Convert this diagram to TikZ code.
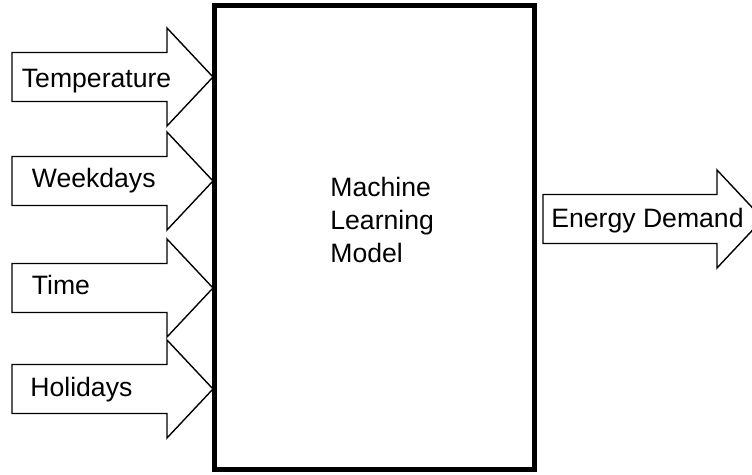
\documentclass[tikz,border=0pt]{standalone}
\usepackage{fontspec}
\setmainfont{Liberation Sans}
\newcommand{\blockarrow}[3]{% from x, tip x, centre y
  \draw[blockarr] (#1,#3-24.5) -- (#2-46,#3-24.5) -- (#2-46,#3-49) -- (#2,#3)
    -- (#2-46,#3+49) -- (#2-46,#3+24.5) -- (#1,#3+24.5) -- cycle;}

\begin{document}
\begin{tikzpicture}[x=0.5pt,y=-0.5pt,
    blockarr/.style={draw,line width=0.7pt,fill=white},
    lbl/.style={font=\fontsize{13.3}{16.5}\selectfont,inner sep=0pt,anchor=base west}]
  \useasboundingbox[fill=white] (0,0) rectangle (752,475);
  \clip (0,0) rectangle (752,475);
  % inputs
  \foreach \nm/\yc/\tx/\ty/\txt in {temp/77/21.5/88/Temperature,
      week/181/31.5/188/Weekdays, time/288/31.5/295/Time, hol/389/30/397/Holidays} {
    \blockarrow{12}{213}{\yc}
    \node[lbl] (\nm) at (\tx,\ty) {\txt};
  }
  % output
  \blockarrow{543}{763}{219}
  \node[lbl] (demand) at (551,228) {Energy Demand};
  % model
  \node[draw,line width=2.5pt,minimum width=159.75pt,minimum height=232.25pt,inner sep=0pt] (model) at (374.25,237.75) {};
  \node[lbl,align=left,anchor=west] (modeltext) at (330,219.5) {Machine\\Learning\\Model};
\end{tikzpicture}
\end{document}
